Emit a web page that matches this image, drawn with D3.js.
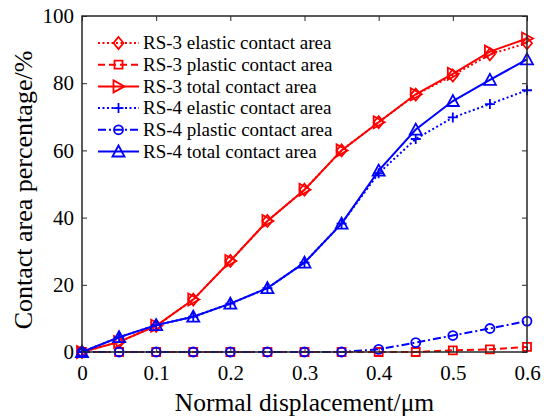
<!DOCTYPE html>
<html>
<head>
<meta charset="utf-8">
<script src="https://cdn.jsdelivr.net/npm/d3@7"></script>
<style>
  html, body { margin: 0; padding: 0; background: #fff; }
  svg { display: block; }
  text { font-family: "Liberation Serif", "Times New Roman", serif; fill: #000; }
</style>
</head>
<body>
<svg id="chart" width="544" height="416"></svg>
<script>
// Normal displacement (µm)
const displacement = [0, 0.05, 0.1, 0.15, 0.2, 0.25, 0.3, 0.35, 0.4, 0.45, 0.5, 0.55, 0.6];

// Contact area percentage (%)
const rs3Elastic = [0, 3.0, 7.8, 15.6, 27.1, 39.0, 48.3, 60.0, 68.4, 76.6, 82.3, 88.6, 91.9];
const rs3Plastic = [0, 0, 0, 0, 0, 0, 0, 0, 0, 0, 0.5, 0.8, 1.5];
const rs3Total   = [0, 3.0, 7.8, 15.6, 27.1, 39.0, 48.3, 60.0, 68.4, 76.7, 82.8, 89.4, 93.3];
const rs4Elastic = [0, 4.4, 8.0, 10.5, 14.4, 19.0, 26.6, 38.2, 53.2, 63.4, 69.8, 73.8, 77.9];
const rs4Plastic = [0, 0, 0, 0, 0, 0, 0, 0, 0.8, 2.8, 4.9, 7.0, 9.2];
const rs4Total   = [0, 4.4, 8.0, 10.5, 14.4, 19.0, 26.6, 38.2, 54.0, 66.2, 74.7, 81.0, 87.1];

const xTicks = [0, 0.1, 0.2, 0.3, 0.4, 0.5, 0.6];
const yTicks = [0, 20, 40, 60, 80, 100];

const seriesDefs = [
  { name: "RS-3 elastic contact area", values: rs3Elastic, color: "#ff0000", dash: "2,2.5", marker: "diamond" },
  { name: "RS-3 plastic contact area", values: rs3Plastic, color: "#ff0000", dash: "7,4",   marker: "square" },
  { name: "RS-3 total contact area",   values: rs3Total,   color: "#ff0000", dash: null,    marker: "triRight" },
  { name: "RS-4 elastic contact area", values: rs4Elastic, color: "#0000ff", dash: "2,2.5", marker: "plus" },
  { name: "RS-4 plastic contact area", values: rs4Plastic, color: "#0000ff", dash: "8,3,2,3", marker: "circle" },
  { name: "RS-4 total contact area",   values: rs4Total,   color: "#0000ff", dash: null,    marker: "triUp" }
];

const serif = "'Liberation Serif', 'Times New Roman', serif";
const svg = d3.select("#chart");
const plotLeft = 82, plotRight = 527, plotTop = 16, plotBottom = 352;

const x = d3.scaleLinear().domain([0, 0.6]).range([plotLeft, plotRight]);
const y = d3.scaleLinear().domain([0, 100]).range([plotBottom, plotTop]);

// Marker path generators centred on (0,0)
function markerPath(type) {
  switch (type) {
    case "diamond":  return "M0,-6L5,0L0,6L-5,0Z";
    case "square":   return "M-4,-4H4V4H-4Z";
    case "triRight": return "M-5,-6L6,0L-5,6Z";
    case "plus":     return "M-5,0H5M0,-5V5";
    case "circle":   return "M-4.5,0A4.5,4.5 0 1,0 4.5,0A4.5,4.5 0 1,0 -4.5,0Z";
    case "triUp":    return "M0,-6L6,5H-6Z";
  }
}

// Axes: ticks pointing inward on all four sides
const axisColor = "#262626";
const gAxes = svg.append("g");

const bottomAxis = d3.axisBottom(x).tickValues(xTicks).tickSizeInner(-5).tickSizeOuter(0).tickPadding(13).tickFormat(d3.format("~g"));
const topAxis = d3.axisTop(x).tickValues(xTicks).tickSizeInner(-5).tickSizeOuter(0).tickFormat("");
const leftAxis = d3.axisLeft(y).tickValues(yTicks).tickSizeInner(-5).tickSizeOuter(0).tickPadding(8);
const rightAxis = d3.axisRight(y).tickValues(yTicks).tickSizeInner(-5).tickSizeOuter(0).tickFormat("");

function styleAxis(g) {
  g.attr("font-family", serif);
  g.select(".domain").remove();
  g.selectAll(".tick line").attr("stroke", axisColor).attr("stroke-width", 1);
  g.selectAll(".tick text").style("font-family", serif).style("font-size", "21px").attr("fill", "#000");
}

gAxes.append("g").attr("transform", `translate(0,${plotBottom})`).call(bottomAxis).call(styleAxis);
gAxes.append("g").attr("transform", `translate(0,${plotTop})`).call(topAxis).call(styleAxis);
gAxes.append("g").attr("transform", `translate(${plotLeft},0)`).call(leftAxis).call(styleAxis);
gAxes.append("g").attr("transform", `translate(${plotRight},0)`).call(rightAxis).call(styleAxis);

// Data lines and markers
const line = d3.line().x((d, i) => x(displacement[i])).y(d => y(d));
const gData = svg.append("g");

seriesDefs.forEach(s => {
  const g = gData.append("g");
  g.append("path")
    .datum(s.values)
    .attr("d", line)
    .attr("fill", "none")
    .attr("stroke", s.color)
    .attr("stroke-width", 2)
    .attr("stroke-dasharray", s.dash);
  g.selectAll("path.mk")
    .data(s.values)
    .join("path")
    .attr("class", "mk")
    .attr("transform", (d, i) => `translate(${x(displacement[i])},${y(d)})`)
    .attr("d", markerPath(s.marker))
    .attr("fill", "none")
    .attr("stroke", s.color)
    .attr("stroke-width", 1.8);
});

// Plot frame
svg.append("rect")
  .attr("x", plotLeft).attr("y", plotTop)
  .attr("width", plotRight - plotLeft).attr("height", plotBottom - plotTop)
  .attr("fill", "none").attr("stroke", axisColor).attr("stroke-width", 1.5);

// Legend
const legend = svg.append("g");
const legY0 = 43, legDy = 21.7, lx0 = 98, lx1 = 139;
seriesDefs.forEach((s, i) => {
  const ly = legY0 + i * legDy;
  const g = legend.append("g");
  g.append("line")
    .attr("x1", lx0).attr("x2", lx1).attr("y1", ly).attr("y2", ly)
    .attr("stroke", s.color).attr("stroke-width", 2)
    .attr("stroke-dasharray", s.dash);
  g.append("path")
    .attr("transform", `translate(${(lx0 + lx1) / 2},${ly})`)
    .attr("d", markerPath(s.marker))
    .attr("fill", "none").attr("stroke", s.color).attr("stroke-width", 1.8);
  g.append("text")
    .attr("x", 143).attr("y", ly)
    .attr("dy", "0.33em")
    .style("font-family", serif)
    .style("font-size", "19px")
    .text(s.name);
});

// Axis titles
svg.append("text")
  .attr("x", (plotLeft + plotRight) / 2).attr("y", 411)
  .attr("text-anchor", "middle")
  .style("font-family", serif)
  .style("font-size", "25.5px")
  .text("Normal displacement/μm");

svg.append("text")
  .attr("transform", `translate(32,190) rotate(-90)`)
  .attr("text-anchor", "middle")
  .style("font-family", serif)
  .style("font-size", "26px")
  .text("Contact area percentage/%");
</script>
</body>
</html>
